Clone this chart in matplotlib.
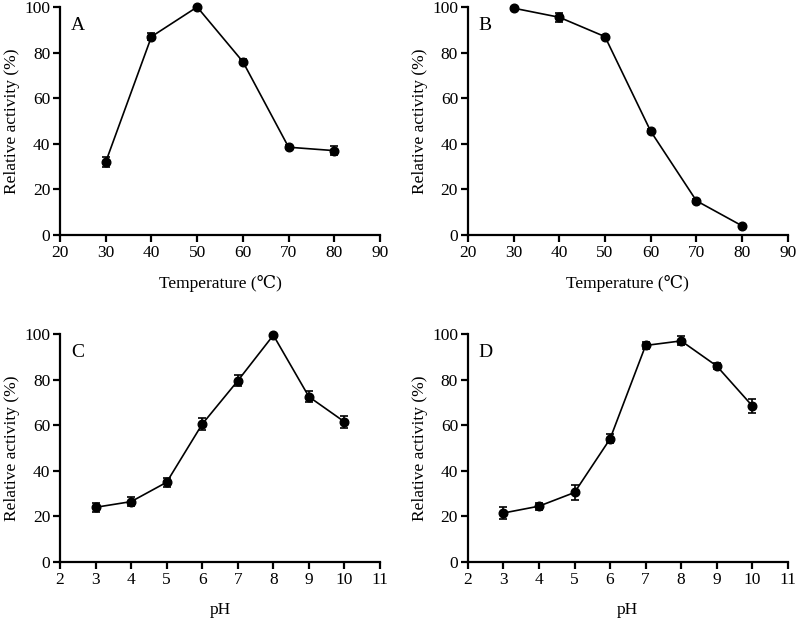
import numpy as np
import matplotlib
matplotlib.use("Agg")
import matplotlib.pyplot as plt

plt.rcParams['font.family'] = ['Liberation Serif', 'DejaVu Serif']
plt.rcParams['font.size'] = 12

# Temperature data (A: optimum, B: stability)
temp = [30, 40, 50, 60, 70, 80]
act_a = [32, 87, 100, 76, 38.5, 37]
err_a = [2, 1.5, 0, 1, 0.8, 2]
act_b = [99.5, 95.5, 87, 45.5, 15, 4]
err_b = [0.5, 2, 0.8, 0.8, 0.8, 0.5]

# pH data (C: optimum, D: stability)
ph = [3, 4, 5, 6, 7, 8, 9, 10]
act_c = [24, 26.5, 35, 60.5, 79.5, 99.5, 72.5, 61.5]
err_c = [2, 2, 2, 2.5, 2.5, 0.5, 2.5, 2.5]
act_d = [21.5, 24.5, 30.5, 54, 95, 97, 86, 68.5]
err_d = [2.5, 1.5, 3.5, 2, 1.5, 2, 1.5, 3]

fig = plt.figure(figsize=(7.97, 6.2), dpi=100)
w, h = 0.4015, 0.3677
boxes = {
    'A': [0.0753, 0.621, w, h],
    'B': [0.587, 0.621, w, h],
    'C': [0.0753, 0.0935, w, h],
    'D': [0.587, 0.0935, w, h],
}
panels = [
    ('A', temp, act_a, err_a, 'Temperature (℃)', (20, 90), np.arange(20, 91, 10)),
    ('B', temp, act_b, err_b, 'Temperature (℃)', (20, 90), np.arange(20, 91, 10)),
    ('C', ph, act_c, err_c, 'pH', (2, 11), np.arange(2, 12, 1)),
    ('D', ph, act_d, err_d, 'pH', (2, 11), np.arange(2, 12, 1)),
]

for name, x, y, e, xlabel, xlim, xticks in panels:
    ax = fig.add_axes(boxes[name])
    ax.errorbar(x, y, yerr=e, color='black', lw=1.2, marker='o', ms=6.2,
                capsize=3, elinewidth=1.2, capthick=1.2, clip_on=False, zorder=3)
    ax.set_xlim(*xlim)
    ax.set_ylim(0, 100)
    ax.set_xticks(xticks)
    ax.set_yticks(np.arange(0, 101, 20))
    for s in ['top', 'right']:
        ax.spines[s].set_visible(False)
    for s in ['left', 'bottom']:
        ax.spines[s].set_linewidth(1.6)
    ax.tick_params(width=1.6, length=5, labelsize=12.5, pad=2)
    ax.set_xlabel(xlabel, fontsize=12.5, labelpad=10)
    ax.set_ylabel('Relative activity (%)', fontsize=12.5, labelpad=3)
    ax.text(0.055, 0.92, name, transform=ax.transAxes, fontsize=14,
            ha='center', va='center')

fig.savefig('out.png', dpi=100)
